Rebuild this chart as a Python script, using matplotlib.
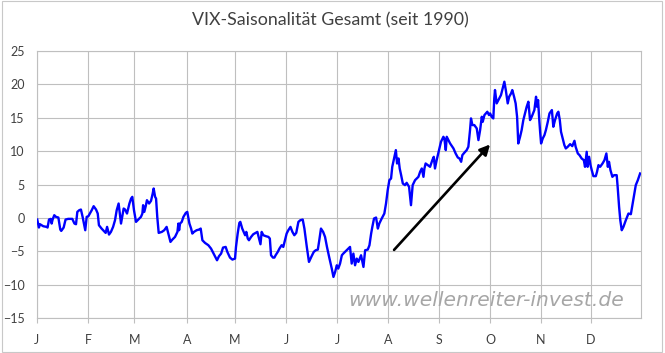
import matplotlib

matplotlib.use("Agg")
import matplotlib.pyplot as plt
from matplotlib.patches import Rectangle

# trading-day position within the year and the seasonal VIX value
day = [
    0.1, 0.8, 1.25, 2.6, 4.0, 4.4, 5.0, 5.7, 6.1, 6.5, 7.2, 7.9, 8.9, 9.7, 10.1,
    11.1, 11.9, 13.0, 14.7, 15.6, 16.25, 16.8, 17.6, 18.3, 19.0, 19.7, 20.1,
    20.7, 21.4, 22.8, 23.6, 24.6, 25.3, 25.8, 26.9, 27.8, 28.6, 29.2, 30.0,
    30.8, 31.7, 32.5, 33.2, 34.0, 35.0, 35.6, 36.1, 36.7, 37.5, 38.5, 39.2,
    39.7, 40.4,
    41.25, 42.2, 43.3, 43.9, 44.2, 44.7, 45.3, 45.8, 46.7, 47.5, 48.2, 48.6,
    49.2, 49.6, 50.1, 50.7, 52.0, 53.0, 54.0, 54.7, 55.6, 56.4, 57.5, 58.5,
    58.9, 59.2, 59.6, 60.3, 61.0, 62.0, 62.6, 63.5, 64.2, 64.7, 65.4, 66.5,
    67.5, 68.2, 68.9, 70.0, 71.4, 72.5, 73.9, 75.0, 75.8, 76.7, 77.5, 78.6,
    79.3, 80.4, 81.4, 82.5, 82.9, 83.6, 84.3,
    84.7, 85.5, 86.4, 86.7, 87.2, 87.8, 88.3, 89.2, 90.1, 91.1, 91.8, 92.5,
    93.1, 93.6, 94.3, 95.4, 96.4, 97.0, 97.5, 98.3, 98.9, 99.4, 100.3, 101.0,
    101.9, 102.6, 103.3, 104.0, 104.7, 105.6, 106.4, 107.2, 108.0, 108.9,
    109.7, 110.7, 111.4, 112.4, 113.3, 114.4, 115.3, 116.1, 117.0, 117.6,
    118.3, 119.2, 120.0, 120.8, 121.7, 122.8, 123.5, 124.2, 124.9, 125.5,
    126.25,
    127.0, 127.6, 128.3, 129.0, 130.4, 131.1, 131.8, 132.5, 133.2, 133.9,
    135.0, 136.0, 136.7, 137.8, 138.5, 139.2, 139.7, 140.4, 141.25, 142.0,
    142.6, 143.6, 144.7, 145.4, 146.1, 146.8, 147.5, 148.0, 148.6, 149.5,
    150.0, 150.6, 151.1, 151.7, 152.4, 153.3, 154.0, 155.0, 155.8, 156.1,
    156.5, 157.5, 158.9, 159.6, 160.3, 161.0, 161.4, 161.9, 162.8, 163.75,
    164.7, 165.3,
    165.8, 166.5, 167.5, 168.3, 169.3, 169.7, 170.3, 170.7, 171.4, 172.1,
    173.5, 174.4, 175.3, 176.0, 176.7, 177.2, 178.0, 179.0, 179.7, 180.4,
    180.8, 181.4, 182.2, 183.2, 183.9, 184.6, 185.3, 185.7, 186.4, 187.6,
    188.3, 188.75, 189.4, 190.1, 190.5, 190.8, 191.5, 192.2, 193.3, 194.0,
    194.7, 195.3, 196.1, 196.7, 197.5, 198.0, 198.75, 199.4, 200.0, 200.5,
    201.25, 201.9, 202.6, 203.3, 204.0, 204.7, 205.4, 206.1, 207.2,
    207.9, 208.3, 208.75, 209.2, 209.6, 210.0, 210.7, 211.4, 212.0, 212.8,
    213.5, 214.5, 215.1, 215.8, 216.7, 217.2, 217.8, 218.3, 219.0, 219.7,
    220.3, 221.1, 222.1, 223.0, 223.9, 224.4, 225.3, 226.0, 226.9, 227.8,
    228.3, 229.0, 229.4, 230.0, 230.6, 231.1, 231.8, 232.8, 233.3, 233.9,
    234.6, 235.6, 236.4, 237.2, 237.8, 238.3, 238.9, 239.7, 240.4, 241.5,
    241.9, 242.5, 243.0, 243.6, 244.3, 245.3, 246.4, 247.4, 248.05, 248.9,
    249.45, 250.3, 251.25,
]
vix = [
    -0.25, -1.45, -0.95, -1.25, -1.35, -1.45, -0.25, -0.15, -0.85, -0.25, 0.4,
    0.15, 0.05, -1.75, -1.95, -1.45, -0.25, -0.15, -0.15, -0.85, -0.95, 0.9,
    1.15, 1.25, 0.15, -1.1, -1.85, 0.15, 0.25, 1.15, 1.75, 1.25, 0.65, -1.1,
    -1.6, -1.95, -2.25, -1.35, -2.5, -2.1, -1.35, -0.35, 1.15, 2.15, -0.85,
    0.4, 1.4, 1.25, 0.65, 2.15, 2.9, 3.15, 1.15,
    -0.6, -0.25, 0.15, 0.65, 1.9, 0.9, 1.75, 2.65, 2.15, 2.55, 3.65, 4.4,
    3.15, 2.9, 0.15, -2.25, -2.1, -1.85, -1.35, -2.35, -3.6, -3.25, -2.85,
    -2.1, -0.85, -1.85, -0.85, -0.6, 0.15, 0.75, 0.9, -0.85, -1.6, -2.35,
    -2.1, -1.85, -1.75, -1.6, -3.35, -3.75, -4.1, -4.6, -5.6, -6.35, -5.75,
    -5.35, -4.45, -4.35, -5.1, -5.95, -6.25, -6.1, -4.35, -2.35, -0.75,
    -0.6, -1.6, -2.35, -2.6, -2.1, -3.1, -3.35, -2.85, -2.45, -2.25, -2.1,
    -3.1, -3.95, -2.1, -2.6, -2.75, -2.85, -3.1, -5.6, -5.95, -5.95, -5.6,
    -5.1, -4.6, -4.1, -4.35, -3.35, -2.35, -1.85, -1.35, -2.1, -2.6, -2.25,
    -0.6, -0.35, -0.25, -1.6, -4.35, -6.6, -5.75, -5.1, -4.85, -4.75, -3.35,
    -1.6, -2.1, -2.85, -4.35, -5.85, -7.6, -8.85, -8.1, -7.1, -7.6, -6.85,
    -5.6, -5.35, -5.1, -4.85, -4.35, -6.85, -5.35, -7.1, -6.1, -6.6, -5.6,
    -7.35, -4.85, -4.75, -4.1, -2.35, -1.35, -0.1, 0.05, -1.6, -0.85, -0.1,
    0.65, 2.15, 4.15, 5.65, 5.9, 7.65, 8.65, 10.15, 8.15, 8.9, 7.4, 6.4, 5.15,
    4.9, 5.25, 4.65, 1.9, 3.15, 4.9, 5.65, 6.15, 6.9, 7.4, 6.15, 7.4, 8.15,
    7.9, 7.65, 8.65, 9.15,
    7.4, 8.65, 10.15, 11.4, 12.15, 11.9, 10.15, 12.15, 11.65, 11.15, 10.4,
    9.65, 9.05, 8.9, 8.4, 9.4, 9.75, 10.15, 10.65, 13.15, 14.9, 13.9, 13.9,
    13.4, 11.65, 13.15, 15.15, 14.4, 15.4, 15.9, 15.4, 15.65, 15.15, 14.9,
    17.9, 19.15, 17.15, 17.65, 18.4, 19.4, 20.4, 19.15, 17.15, 18.15, 18.65,
    19.15, 18.15, 17.15, 15.15, 11.15, 12.15, 13.15, 14.65, 15.65, 16.65,
    17.4, 14.65, 15.15, 16.15,
    18.15, 16.65, 17.65, 14.9, 12.9, 11.15, 11.9, 12.4, 13.15, 14.4, 15.65,
    16.15, 13.65, 14.65, 15.65, 15.9, 14.65, 12.9, 11.9, 10.9, 10.4, 10.65,
    11.05, 10.75, 11.55, 10.65, 9.65, 9.4, 8.9, 8.65, 7.65, 9.9, 7.65, 9.15,
    7.9, 7.15, 6.25, 6.25, 6.9, 7.9, 7.65, 8.15, 8.65, 9.65, 7.65, 8.4, 7.15,
    6.15, 6.4, 6.4, 4.65, 1.65, -0.35, -1.85, -1.35, -0.35, 0.65, 0.55, 1.9,
    3.65, 4.9, 5.65, 6.65,
]

month_start = [0, 21.4, 40.5, 62.4, 82.5, 103.9, 125.1, 146.4, 167.6, 188.8, 210.0, 230.7]
month_labels = ["J", "F", "M", "A", "M", "J", "J", "A", "S", "O", "N", "D"]
year_end = 251.5
y_ticks = list(range(-15, 30, 5))

# arrow: start and end of the trend arrow (day, value)
arrow_from = (148.75, -4.8)
arrow_to = (188.75, 11.0)

GRID = "#BFBFBF"
TEXT = "#404040"
plt.rcParams["font.family"] = ["Lato", "DejaVu Sans"]

fig = plt.figure(figsize=(6.65, 3.53), dpi=100)
fig.patches.append(Rectangle((0.003, 0.004), 0.993, 0.992, transform=fig.transFigure,
                             fill=False, edgecolor="#C8C8C8", lw=0.8))
ax = fig.add_axes([37 / 665, 35 / 353, 603.7 / 665, 267 / 353])

ax.plot(day, vix, color="#0000FF", lw=1.7, zorder=3)
ax.annotate("", xy=arrow_to, xytext=arrow_from,
            arrowprops=dict(arrowstyle="-|>,head_length=0.6,head_width=0.3",
                            color="black", lw=1.9, shrinkA=0, shrinkB=0), zorder=4)

ax.set_xlim(0, year_end)
ax.set_ylim(-15, 25)
ax.set_xticks(month_start)
ax.set_xticklabels(month_labels)
ax.set_yticks(y_ticks)
ax.grid(True, color=GRID, lw=0.8)
ax.set_axisbelow(True)
for s in ax.spines.values():
    s.set_color(GRID)
    s.set_linewidth(0.8)
ax.tick_params(axis="x", length=3.5, width=0.8, color=GRID, pad=8,
               labelsize=9, labelcolor=TEXT)
ax.tick_params(axis="y", length=0, pad=9, labelsize=9, labelcolor=TEXT)

ax.text(0.744, 0.067, "www.wellenreiter-invest.de", transform=ax.transAxes,
        ha="center", va="center", fontsize=14.6, style="italic",
        family="DejaVu Sans", color="#A6A6A6", zorder=2)

fig.text(0.497, 1 - 20 / 353, "VIX-Saisonalität Gesamt (seit 1990)",
         ha="center", va="center", fontsize=12.8, color=TEXT)

fig.savefig("out.png", dpi=100)
